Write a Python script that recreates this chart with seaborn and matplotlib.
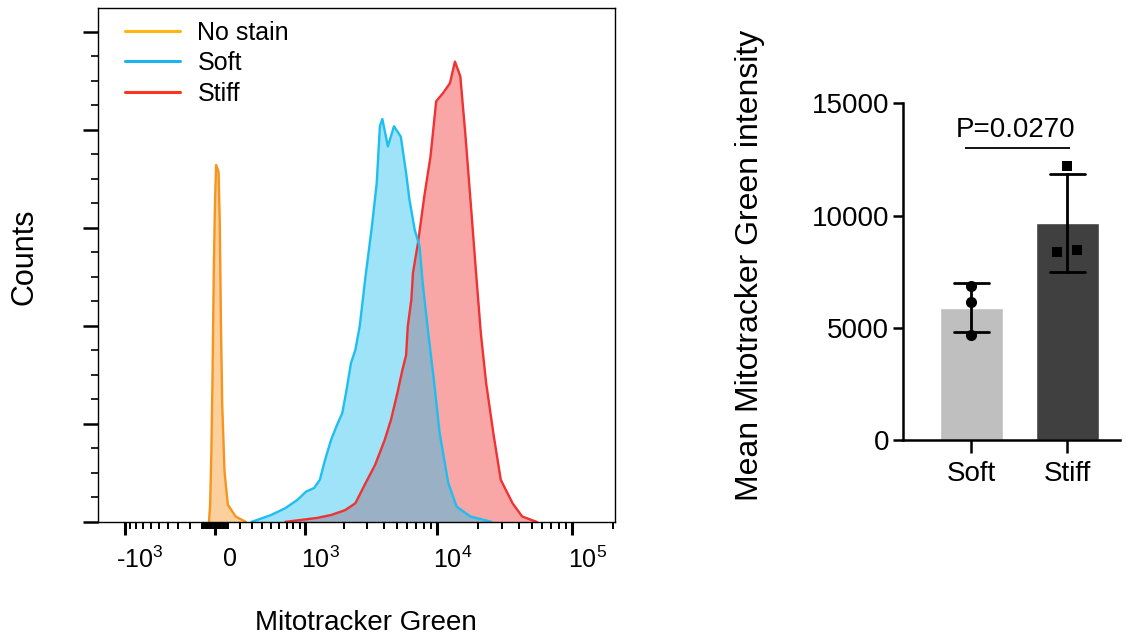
import numpy as np
import pandas as pd
import seaborn as sns
import matplotlib.pyplot as plt
from matplotlib.lines import Line2D
from matplotlib.transforms import ScaledTranslation

# flow histogram outlines (x = fluorescence, y = counts)
nostain_x = [-46, -37, -28, -18, -9, 0, 9, 28, 37, 46, 56, 74, 100, 162, 248]
nostain_y = [0, 35, 137, 306, 510, 646, 728, 714, 612, 408, 239, 102, 35, 11, 0]

soft_x = [300, 500, 680, 865, 1020, 1180, 1310, 1440, 1600, 1760, 1950, 2100,
          2270, 2450, 2640, 2920, 3260, 3540, 3740, 3900, 4290, 4760, 5350,
          5860, 6210, 6790, 7380, 7780, 8560, 9480, 10400, 12050, 13900,
          17600, 25200]
soft_y = [0, 14, 28, 45, 62, 69, 86, 127, 167, 195, 222, 269,
          324, 351, 399, 501, 603, 691, 807, 822, 766, 807, 786,
          712, 657, 596, 562, 487, 385, 283, 181, 79, 31,
          11, 0]

stiff_x = [680, 1240, 1600, 2050, 2450, 2920, 3440, 4060, 4520, 5030, 5500,
           5860, 6030, 6410, 6590, 7180, 8000, 8900, 9800, 11040, 12400,
           13500, 14800, 16100, 17600, 19200, 21000, 23000, 26000, 29500,
           36100, 42500, 54500]
stiff_y = [0, 8, 14, 24, 38, 79, 116, 167, 208, 261, 310,
           340, 399, 453, 508, 569, 664, 746, 858, 875, 895,
           939, 909, 793, 657, 521, 385, 283, 181, 86,
           38, 11, 0]

hist_labels = ['No stain', 'Soft', 'Stiff']
xtick_vals = [-1e3, 0, 1e3, 1e4, 1e5]
xtick_text = ['-10$^3$', '0', '10$^3$', '10$^4$', '10$^5$']

# bar chart: mean mitotracker intensity per replicate
groups = ['Soft', 'Stiff']
soft_vals = [6850, 6150, 4700]
stiff_vals = [12200, 8450, 8400]
p_label = 'P=0.0270'


def spread(vals, gap, step):
    """
    Nudges replicate values that would overlap sideways, symmetric
    around the bar centre (like Prism does).
    """
    vals = np.asarray(vals, dtype=float)
    offs = np.zeros(len(vals))
    order = np.argsort(vals)
    i = 0
    while i < len(order):
        j = i
        while j + 1 < len(order) and vals[order[j + 1]] - vals[order[j]] < gap:
            j += 1
        n = j - i + 1
        offs[order[i:j + 1]] = (np.arange(n) - (n - 1) / 2) * step
        i = j + 1
    return offs


sns.set_style('ticks')
plt.rcParams['font.family'] = ['Liberation Sans', 'DejaVu Sans']
plt.rcParams['mathtext.default'] = 'regular'
for key in ['text.color', 'axes.labelcolor', 'xtick.color', 'ytick.color',
            'axes.edgecolor']:
    plt.rcParams[key] = 'black'

fig = plt.figure(figsize=(11.26, 6.38), dpi=100)
ax1 = fig.add_axes([0.087, 0.182, 0.459, 0.806])
ax2 = fig.add_axes([0.802, 0.310, 0.193, 0.528])

# ---- left: overlaid histograms on a biexponential-like axis
line_cols = ['#F7941D', '#1EBEF0', '#F03232']
curves = [(nostain_x, nostain_y, line_cols[0]),
          (stiff_x, stiff_y, line_cols[2]),
          (soft_x, soft_y, line_cols[1])]
for xs, ys, col in curves:
    ax1.fill_between(xs, ys, color=col, alpha=0.43, lw=0)
    sns.lineplot(x=xs, y=ys, color=col, lw=1.7, sort=False, ax=ax1)

ax1.set_xscale('function', functions=(lambda v: np.arcsinh(v / 450.0),
                                      lambda v: 450.0 * np.sinh(v)))
ax1.set_xlim(-1625, 206500)
ax1.set_ylim(0, 1049)

minor_x = np.concatenate([-np.arange(100, 1000, 100), -np.arange(10, 100, 10),
                          np.arange(10, 100, 10), np.arange(100, 1000, 100),
                          np.arange(2e3, 1e4, 1e3), np.arange(2e4, 1e5, 1e4),
                          [2e5]])
ax1.set_xticks(xtick_vals, xtick_text)
ax1.set_xticks(minor_x, minor=True)
ax1.set_yticks(np.arange(0, 1001, 200))
ax1.set_yticks(np.arange(0, 1001, 50), minor=True)
ax1.tick_params(axis='x', which='major', length=9, width=2.2, pad=9,
                labelsize=18)
ax1.tick_params(axis='x', which='minor', length=5, width=1.4)
ax1.tick_params(axis='y', which='major', length=11, width=1.8,
                labelleft=False)
ax1.tick_params(axis='y', which='minor', length=5, width=1.2)
for sp in ax1.spines.values():
    sp.set_linewidth(1.0)

# tick labels sit a little right of their ticks in the original export
shift = ScaledTranslation(0.15, 0, fig.dpi_scale_trans)
for lbl in ax1.get_xticklabels():
    lbl.set_transform(lbl.get_transform() + shift)

ax1.set_xlabel('Mitotracker Green', fontsize=20)
ax1.set_ylabel('Counts', fontsize=22)
ax1.xaxis.set_label_coords(0.518, -0.171)
ax1.yaxis.set_label_coords(-0.114, 0.5165)

handles = [Line2D([], [], color=c, lw=2.2)
           for c in ['#FFB612', '#1AB4EE', '#FF3320']]
ax1.legend(handles, hist_labels, loc='upper left',
           bbox_to_anchor=(0.052, 0.975), frameon=False, fontsize=18,
           handlelength=2.2, handletextpad=0.7, labelspacing=0.26,
           borderpad=0, borderaxespad=0)

# ---- right: bar chart with SD and replicate points
bars = pd.DataFrame({'group': ['Soft'] * len(soft_vals) + ['Stiff'] * len(stiff_vals),
                     'intensity': soft_vals + stiff_vals})
sns.barplot(data=bars, x='group', y='intensity', hue='group', order=groups,
            palette=['#BFBFBF', '#404040'], errorbar='sd', capsize=0.365,
            width=0.656, err_kws={'color': 'black', 'linewidth': 2.0},
            legend=False, ax=ax2)
for pos, (vals, mk, sz) in enumerate([(soft_vals, 'o', 64),
                                      (stiff_vals, 's', 42)]):
    xs = pos + spread(vals, 500, 0.21)
    sns.scatterplot(x=xs, y=vals, marker=mk, s=sz, color='black',
                    linewidth=0, zorder=3, ax=ax2)

ax2.set_xticks(range(len(groups)), groups)
ax2.set_xlim(-0.708, 1.552)
ax2.set_ylim(0, 15000)
ax2.set_yticks([0, 5000, 10000, 15000])
ax2.tick_params(axis='y', length=7, width=1.8, labelsize=20, pad=3)
ax2.tick_params(axis='x', length=9, width=1.8, labelsize=20, pad=6)
sns.despine(ax=ax2)
for side in ['left', 'bottom']:
    ax2.spines[side].set_linewidth(1.8)
ax2.set_xlabel('')
ax2.set_ylabel('Mean Mitotracker Green intensity', fontsize=23)
ax2.yaxis.set_label_coords(-0.636, 0.519)

sig_y = max(stiff_vals) + 800
ax2.hlines(sig_y, -0.06, 1.03, color='black', lw=1.3, clip_on=False)
ax2.text(0.46, sig_y + 500, p_label, ha='center', va='baseline', fontsize=20)

fig.savefig('out.png', dpi=100)
